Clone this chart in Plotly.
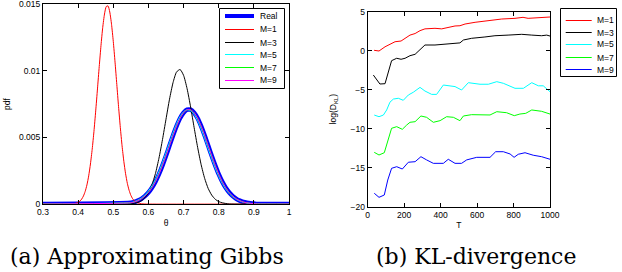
import plotly.graph_objects as go

# ---------------- data: (a) approximating Gibbs ----------------
theta_real = [0.30, 0.55, 0.56, 0.57, 0.58, 0.59, 0.60, 0.61, 0.62, 0.63, 0.64, 0.65, 0.66, 0.67,
              0.68, 0.69, 0.70, 0.71, 0.72, 0.73, 0.74, 0.75, 0.76, 0.77, 0.78, 0.79, 0.80,
              0.81, 0.82, 0.83, 0.84, 0.85, 0.86, 0.87, 0.88, 0.89, 0.90, 0.91, 1.00]
pdf_real = [0, 0.00009, 0.00015, 0.00025, 0.00039, 0.00059, 0.00086, 0.00122, 0.00168, 0.00224,
            0.00290, 0.00362, 0.00438, 0.00514, 0.00584, 0.00643, 0.00685, 0.00707, 0.00707,
            0.00685, 0.00643, 0.00584, 0.00514, 0.00438, 0.00362, 0.00290, 0.00224, 0.00168,
            0.00122, 0.00086, 0.00059, 0.00039, 0.00025, 0.00015, 0.00009, 0.00005, 0.00003, 0, 0]

theta_m1 = [0.30, 0.38, 0.39, 0.40, 0.405, 0.41, 0.415, 0.42, 0.425, 0.43, 0.435, 0.44, 0.445,
            0.45, 0.455, 0.46, 0.465, 0.47, 0.475, 0.48, 0.485, 0.49, 0.495, 0.50, 0.505, 0.51,
            0.515, 0.52, 0.525, 0.53, 0.535, 0.54, 0.545, 0.55, 0.555, 0.56, 0.57, 0.58, 0.59, 1.00]
pdf_m1 = [0, 0.00001, 0.000036, 0.000123, 0.000216, 0.000365, 0.000596, 0.00094, 0.00143, 0.00211,
          0.00300, 0.00411, 0.00545, 0.00698, 0.00863, 0.01031, 0.01189, 0.01325, 0.01425,
          0.01481, 0.01486, 0.01440, 0.01348, 0.01219, 0.01064, 0.00897, 0.00730, 0.00575,
          0.00436, 0.00320, 0.00227, 0.00155, 0.00103, 0.00065, 0.00040, 0.00024, 0.00008,
          0.00002, 0, 0]

theta_m3 = [0.30, 0.54, 0.55, 0.56, 0.57, 0.58, 0.59, 0.60, 0.61, 0.62, 0.63, 0.64, 0.65, 0.66,
            0.67, 0.68, 0.69, 0.70, 0.71, 0.72, 0.73, 0.74, 0.75, 0.76, 0.77, 0.78, 0.79, 0.80,
            0.81, 0.82, 0.83, 1.00]
pdf_m3 = [0, 0.000009, 0.000023, 0.000053, 0.000117, 0.00024, 0.00047, 0.00084, 0.00144, 0.00229,
          0.00344, 0.00483, 0.00636, 0.00786, 0.00910, 0.00990, 0.01009, 0.00965, 0.00865,
          0.00728, 0.00574, 0.00425, 0.00295, 0.00192, 0.00117, 0.00067, 0.00036, 0.00018,
          0.00009, 0.00004, 0, 0]

theta_m5 = theta_real
pdf_m5 = [0, 0.00011, 0.00018, 0.00029, 0.00045, 0.00067, 0.00097, 0.00136, 0.00185, 0.00244,
          0.00312, 0.00385, 0.00461, 0.00535, 0.00602, 0.00656, 0.00692, 0.00707, 0.00700,
          0.00672, 0.00625, 0.00563, 0.00491, 0.00415, 0.00340, 0.00270, 0.00207, 0.00154,
          0.00111, 0.00078, 0.00053, 0.00035, 0.00022, 0.00013, 0.00008, 0.00004, 0.00002, 0, 0]

theta_m7 = theta_real
pdf_m7 = [0, 0.00009, 0.00015, 0.00025, 0.00039, 0.00060, 0.00087, 0.00123, 0.00169, 0.00225,
          0.00291, 0.00363, 0.00439, 0.00515, 0.00585, 0.00643, 0.00685, 0.00706, 0.00706,
          0.00684, 0.00642, 0.00583, 0.00513, 0.00437, 0.00361, 0.00289, 0.00223, 0.00167,
          0.00121, 0.00085, 0.00058, 0.00038, 0.00025, 0.00015, 0.00009, 0.00005, 0.00003, 0, 0]

theta_m9 = theta_real
pdf_m9 = pdf_real

pdf_names = ["Real", "M=1", "M=3", "M=5", "M=7", "M=9"]
pdf_colors = ["#0000ff", "#ff0000", "#000000", "#00ffff", "#00ff00", "#ff00ff"]
pdf_widths = [4.5, 1, 1, 1, 1, 1]
pdf_x = [theta_real, theta_m1, theta_m3, theta_m5, theta_m7, theta_m9]
pdf_y = [pdf_real, pdf_m1, pdf_m3, pdf_m5, pdf_m7, pdf_m9]

pdf_xticks = [0.3, 0.4, 0.5, 0.6, 0.7, 0.8, 0.9, 1.0]
pdf_xticktext = ["0.3", "0.4", "0.5", "0.6", "0.7", "0.8", "0.9", "1"]
pdf_yticks = [0, 0.005, 0.01, 0.015]
pdf_yticktext = ["0", "0.005", "0.01", "0.015"]

# ---------------- data: (b) KL divergence ----------------
T_m1 = [35, 62, 95, 122, 150, 183, 204, 232, 260, 287, 314, 369, 406, 433, 461, 479, 506, 534,
        589, 660, 735, 808, 852, 880, 934, 1000]
kl_m1 = [0.05, -0.04, 0.5, 0.86, 1.15, 1.24, 1.6, 2.0, 2.2, 2.57, 2.8, 2.87, 2.8, 2.95, 3.13,
         3.17, 3.2, 3.42, 3.64, 3.85, 4.06, 4.15, 4.28, 4.15, 4.2, 4.32]

T_m3 = [31, 49, 67, 95, 113, 131, 159, 183, 205, 232, 260, 287, 314, 369, 424, 470, 506, 525,
        570, 643, 698, 770, 845, 900, 954, 982, 1000]
kl_m3 = [-3.12, -3.76, -4.27, -4.23, -2.9, -1.28, -0.97, -1.1, -0.97, -0.64, -0.46, 0.09, 0.73,
         0.73, 0.86, 0.95, 1.0, 1.37, 1.59, 1.76, 1.92, 2.0, 2.1, 2.0, 1.92, 2.0, 1.88]

T_m5 = [36, 62, 86, 104, 122, 141, 168, 195, 223, 250, 287, 314, 351, 378, 415, 451, 479, 515,
        552, 616, 662, 708, 744, 808, 854, 900, 936, 963, 1000]
kl_m5 = [-8.25, -8.46, -8.25, -7.6, -6.6, -6.2, -6.1, -6.36, -5.68, -5.33, -4.7, -5.17, -5.6,
         -5.6, -4.4, -4.5, -4.6, -5.04, -4.1, -4.3, -4.3, -3.97, -4.18, -4.82, -4.82, -4.1,
         -4.5, -4.5, -5.26]

T_m7 = [36, 62, 91, 113, 131, 159, 190, 214, 232, 260, 292, 323, 360, 397, 433, 470, 506, 525,
        570, 671, 708, 762, 804, 835, 867, 900, 954, 1000]
kl_m7 = [-13.03, -13.37, -13.08, -11.45, -9.95, -9.74, -10.08, -9.53, -9.18, -9.1, -8.37, -8.54,
         -9.18, -8.97, -8.46, -8.54, -8.97, -8.37, -8.2, -8.24, -7.82, -7.95, -8.33, -8.12,
         -8.03, -7.6, -7.77, -8.12]

T_m9 = [36, 62, 91, 110, 131, 159, 190, 223, 260, 292, 323, 360, 415, 442, 479, 515, 543, 598,
        671, 702, 744, 781, 803, 826, 863, 908, 954, 1000]
kl_m9 = [-18.28, -18.8, -18.5, -16.58, -15.08, -14.87, -15.17, -14.3, -14.23, -13.59, -14.0,
         -14.44, -14.44, -13.92, -14.44, -14.44, -14.0, -13.67, -13.67, -12.95, -12.95, -13.24,
         -13.67, -13.28, -13.08, -13.4, -13.59, -13.92]

kl_names = ["M=1", "M=3", "M=5", "M=7", "M=9"]
kl_colors = ["#ff0000", "#000000", "#00ffff", "#00ff00", "#0000ff"]
kl_x = [T_m1, T_m3, T_m5, T_m7, T_m9]
kl_y = [kl_m1, kl_m3, kl_m5, kl_m7, kl_m9]

kl_xticks = [0, 200, 400, 600, 800, 1000]
kl_yticks = [-20, -15, -10, -5, 0, 5]

captions = ["(a) Approximating Gibbs", "(b) KL-divergence"]

# ---------------- figure ----------------
W, H = 622, 272
TICKFONT = dict(family="Liberation Sans, Arial, sans-serif", size=8.5, color="black")

fig = go.Figure()
for name, col, lw, xs, ys in zip(pdf_names, pdf_colors, pdf_widths, pdf_x, pdf_y):
    fig.add_trace(go.Scatter(x=xs, y=ys, mode="lines", name=name, showlegend=False,
                             line=dict(color=col, width=lw, shape="spline", smoothing=0.6),
                             xaxis="x", yaxis="y"))
for name, col, xs, ys in zip(kl_names, kl_colors, kl_x, kl_y):
    fig.add_trace(go.Scatter(x=xs, y=ys, mode="lines", name=name, showlegend=False,
                             line=dict(color=col, width=1),
                             xaxis="x2", yaxis="y2"))

axis_common = dict(showline=True, linecolor="black", linewidth=1, mirror="allticks",
                   ticks="inside", ticklen=4, tickcolor="black", showgrid=False,
                   zeroline=False, tickfont=TICKFONT, automargin=True,
                   ticklabeloverflow="allow")

fig.update_layout(
    width=W, height=H, margin=dict(l=0, r=0, t=0, b=0, autoexpand=False),
    paper_bgcolor="white", plot_bgcolor="white", showlegend=False,
    xaxis=dict(domain=[43 / W, 289 / W], range=[0.3, 1.0], tickvals=pdf_xticks,
               ticktext=pdf_xticktext, anchor="y",
               title=dict(text="θ", font=TICKFONT, standoff=3), **axis_common),
    yaxis=dict(domain=[1 - 204 / H, 1 - 4 / H], range=[0, 0.015], tickvals=pdf_yticks,
               ticktext=pdf_yticktext, anchor="x",
               title=dict(text="pdf", font=TICKFONT, standoff=7), **axis_common),
    xaxis2=dict(domain=[367.7 / W, 550 / W], range=[0, 1000], tickvals=kl_xticks, anchor="y2",
                title=dict(text="T", font=TICKFONT, standoff=3), **axis_common),
    yaxis2=dict(domain=[1 - 206.7 / H, 1 - 11.7 / H], range=[-20, 5], tickvals=kl_yticks,
                anchor="x2",
                title=dict(text="log(D<sub>KL</sub>)", font=TICKFONT, standoff=12), **axis_common),
)

# manual legends (boxes, samples and labels built from the series lists)
def add_legend(names, colors, widths, box, rows, line_x, text_x):
    x0, y0, x1, y1 = box
    fig.add_shape(type="rect", xref="paper", yref="paper",
                  x0=x0 / W, x1=x1 / W, y0=1 - y1 / H, y1=1 - y0 / H,
                  line=dict(color="black", width=1), fillcolor="white", layer="above")
    for name, col, lw, ry in zip(names, colors, widths, rows):
        fig.add_shape(type="line", xref="paper", yref="paper",
                      x0=line_x[0] / W, x1=line_x[1] / W, y0=1 - ry / H, y1=1 - ry / H,
                      line=dict(color=col, width=lw), layer="above")
        fig.add_annotation(x=text_x / W, y=1 - ry / H, xref="paper", yref="paper",
                           text=name, showarrow=False, xanchor="left", yanchor="middle",
                           font=TICKFONT)

add_legend(pdf_names, pdf_colors, [4, 1, 1, 1, 1, 1], (219.5, 8.5, 284.5, 88.5),
           [16, 29.5, 42.5, 54.5, 67.5, 80.5], (225, 254), 257.5)
add_legend(kl_names, kl_colors, [1] * 5, (560.5, 8.5, 616.5, 76.5),
           [20.5, 32.5, 44.5, 57.5, 69.5], (565.7, 591.7), 595)

# captions
for cap, cx in zip(captions, [147, 476]):
    fig.add_annotation(x=cx / W, y=1 - 256 / H, xref="paper", yref="paper", text=cap,
                       showarrow=False, xanchor="center", yanchor="middle",
                       font=dict(family="DejaVu Serif, serif", size=22, color="black"))

fig.write_html("out.html", config={"displayModeBar": False},
               post_script="document.body.style.margin='0px';document.body.style.overflow='hidden';")
